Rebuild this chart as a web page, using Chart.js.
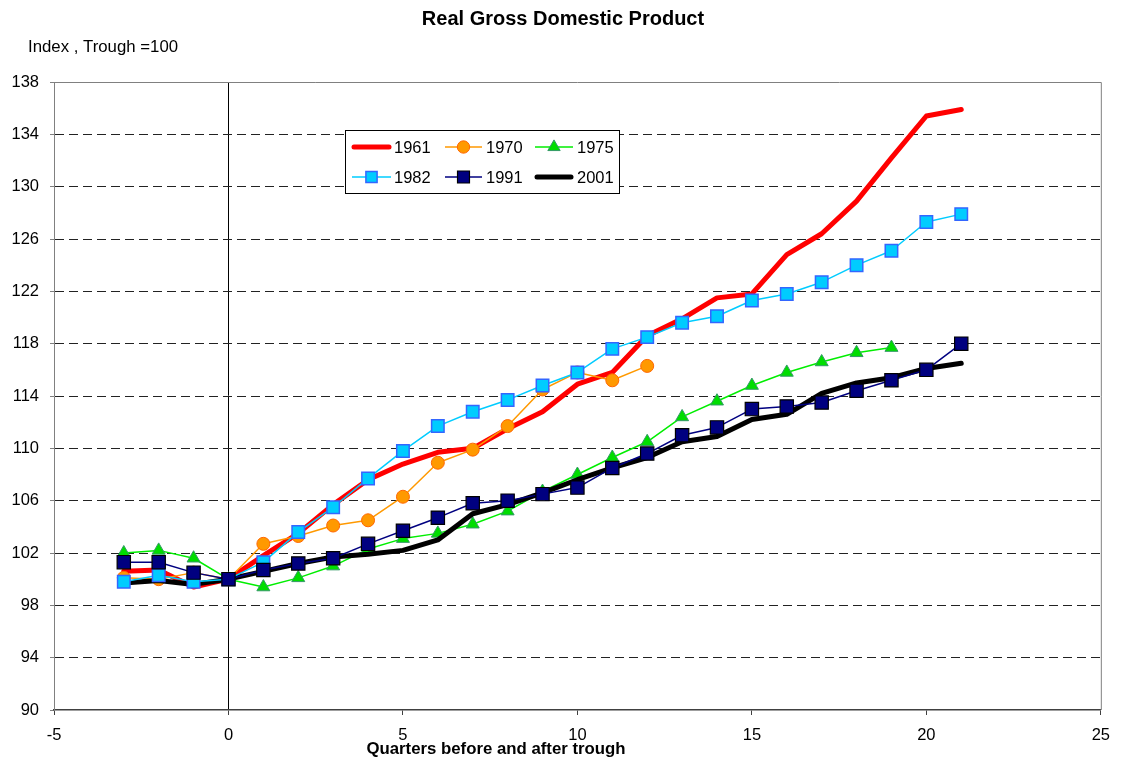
<!DOCTYPE html>
<html>
<head>
<meta charset="utf-8">
<title>Real Gross Domestic Product</title>
<script src="https://cdn.jsdelivr.net/npm/chart.js@4.4.1/dist/chart.umd.min.js"></script>
<style>
  html, body { margin: 0; padding: 0; background: #ffffff; }
  #wrap { position: relative; width: 1121px; height: 759px; }
  canvas { display: block; }
</style>
</head>
<body>
<div id="wrap"><canvas id="gdp" width="1121" height="759"></canvas></div>
<script>
// Quarters relative to the cycle trough (0 = trough)
const quarters = [-3, -2, -1, 0, 1, 2, 3, 4, 5, 6, 7, 8, 9, 10, 11, 12, 13, 14, 15, 16, 17, 18, 19, 20, 21];

// Real GDP index (trough = 100) for each recovery
const gdp1961 = [100.6, 100.7, 99.4, 100.0, 101.8, 103.5, 105.7, 107.6, 108.8, 109.7, 110.0, 111.5, 112.8, 114.9, 115.8, 118.6, 119.9, 121.5, 121.8, 124.8, 126.4, 128.9, 132.2, 135.4, 135.9];
const gdp1970 = [100.1, 100.0, 100.5, 100.0, 102.7, 103.3, 104.1, 104.5, 106.3, 108.9, 109.9, 111.7, 114.5, 115.8, 115.2, 116.3];
const gdp1975 = [102.0, 102.2, 101.6, 100.0, 99.4, 100.1, 101.0, 102.3, 103.1, 103.5, 104.2, 105.2, 106.7, 108.0, 109.3, 110.5, 112.4, 113.6, 114.8, 115.8, 116.6, 117.3, 117.7];
const gdp1982 = [99.8, 100.3, 99.8, 100.0, 101.3, 103.6, 105.5, 107.7, 109.8, 111.7, 112.8, 113.7, 114.8, 115.8, 117.6, 118.5, 119.6, 120.1, 121.3, 121.8, 122.7, 124.0, 125.1, 127.3, 127.9];
const gdp1991 = [101.3, 101.3, 100.5, 100.0, 100.7, 101.2, 101.6, 102.7, 103.7, 104.7, 105.8, 106.0, 106.5, 107.0, 108.5, 109.6, 111.0, 111.6, 113.0, 113.2, 113.5, 114.4, 115.2, 116.0, 118.0];
const gdp2001 = [99.7, 99.9, 99.6, 100.0, 100.6, 101.2, 101.7, 101.9, 102.2, 103.0, 105.0, 105.7, 106.6, 107.6, 108.5, 109.3, 110.5, 110.9, 112.2, 112.6, 114.2, 115.0, 115.4, 116.1, 116.5];

// Axis ranges and tick steps
const xTicks = { min: -5, max: 25, step: 5 };
const yTicks = { min: 90, max: 138, step: 4 };

const FONT = '"Liberation Sans", Arial, Helvetica, sans-serif';

function toPoints(values) {
  return values.map((v, i) => ({ x: quarters[i], y: v }));
}

// Series styling (drawing order: navy on top, red at the back)
const seriesDefs = [
  { label: '1961', data: gdp1961, color: '#FF0000', width: 5, marker: null, order: 6 },
  { label: '1970', data: gdp1970, color: '#FF9900', width: 1.5, marker: { style: 'circle', r: 6.5, fill: '#FF9900', stroke: '#FF6600', bw: 1 }, order: 5 },
  { label: '1975', data: gdp1975, color: '#00EE00', width: 1.5, marker: { style: 'triangle', r: 7.5, fill: '#00DD00', stroke: '#339966', bw: 1 }, order: 4 },
  { label: '1982', data: gdp1982, color: '#00CCFF', width: 1.5, marker: { style: 'rect', r: 8.8, fill: '#00CCFF', stroke: '#3366FF', bw: 1.5 }, order: 2 },
  { label: '1991', data: gdp1991, color: '#000080', width: 1.5, marker: { style: 'rect', r: 9.4, fill: '#000080', stroke: '#000000', bw: 1.2 }, order: 1 },
  { label: '2001', data: gdp2001, color: '#000000', width: 5, marker: null, order: 3 }
];

const datasets = seriesDefs.map(s => ({
  label: s.label,
  data: toPoints(s.data),
  borderColor: s.color,
  backgroundColor: s.marker ? s.marker.fill : s.color,
  borderWidth: s.width,
  tension: 0,
  order: s.order,
  pointStyle: s.marker ? s.marker.style : false,
  pointRadius: s.marker ? s.marker.r : 0,
  pointHoverRadius: s.marker ? s.marker.r : 0,
  pointBackgroundColor: s.marker ? s.marker.fill : s.color,
  pointBorderColor: s.marker ? s.marker.stroke : s.color,
  pointBorderWidth: s.marker ? s.marker.bw : 0,
  borderJoinStyle: 'round',
  borderCapStyle: 'round',
  clip: false
}));

// Small marker painter for the legend swatches
function paintMarker(ctx, m, x, y) {
  ctx.save();
  ctx.fillStyle = m.fill;
  ctx.strokeStyle = m.stroke;
  ctx.lineWidth = m.bw;
  ctx.beginPath();
  if (m.style === 'circle') {
    ctx.arc(x, y, m.r, 0, Math.PI * 2);
  } else if (m.style === 'triangle') {
    const h = m.r;
    ctx.moveTo(x, y - h);
    ctx.lineTo(x + h * Math.sin(2 * Math.PI / 3), y + h / 2);
    ctx.lineTo(x - h * Math.sin(2 * Math.PI / 3), y + h / 2);
    ctx.closePath();
  } else {
    const s = m.r * Math.SQRT1_2;
    ctx.rect(x - s, y - s, 2 * s, 2 * s);
  }
  ctx.fill();
  ctx.stroke();
  ctx.restore();
}

// Titles, plot frame and boxed legend
const decorations = {
  id: 'decorations',
  afterDraw(chart) {
    const ctx = chart.ctx;
    const a = chart.chartArea;
    ctx.save();

    // top and right edges of the plot frame
    ctx.strokeStyle = '#808080';
    ctx.lineWidth = 1;
    ctx.beginPath();
    ctx.moveTo(a.left, a.top + 0.5);
    ctx.lineTo(a.right + 0.5, a.top + 0.5);
    ctx.lineTo(a.right + 0.5, a.bottom);
    ctx.stroke();

    // chart title
    ctx.fillStyle = '#000000';
    ctx.textAlign = 'center';
    ctx.textBaseline = 'middle';
    ctx.font = 'bold 20px ' + FONT;
    ctx.fillText('Real Gross Domestic Product', 563, 19);

    // y-axis caption
    ctx.textAlign = 'left';
    ctx.font = '16.8px ' + FONT;
    ctx.fillText('Index , Trough =100', 28, 47);

    // x-axis caption
    ctx.textAlign = 'center';
    ctx.font = 'bold 16.8px ' + FONT;
    ctx.fillText('Quarters before and after trough', 496, 749);

    // legend box
    const box = { x: 345.5, y: 130.5, w: 274, h: 63 };
    ctx.fillStyle = '#ffffff';
    ctx.fillRect(box.x, box.y, box.w, box.h);
    ctx.strokeStyle = '#000000';
    ctx.lineWidth = 1;
    ctx.strokeRect(box.x, box.y, box.w, box.h);

    const cols = [{ x0: 352, x1: 391, tx: 394 }, { x0: 445, x1: 482, tx: 486 }, { x0: 535, x1: 573, tx: 577 }];
    const rows = [147, 177];
    ctx.font = '16.5px ' + FONT;
    seriesDefs.forEach((s, i) => {
      const c = cols[i % 3];
      const y = rows[Math.floor(i / 3)];
      ctx.save();
      ctx.strokeStyle = s.color;
      ctx.lineWidth = s.width;
      ctx.lineCap = s.width > 2 ? 'round' : 'butt';
      ctx.beginPath();
      ctx.moveTo(c.x0 + (s.width > 2 ? 2 : 0), y);
      ctx.lineTo(c.x1 - (s.width > 2 ? 2 : 0), y);
      ctx.stroke();
      ctx.restore();
      if (s.marker) {
        const m = Object.assign({}, s.marker, { r: s.marker.style === 'rect' ? s.marker.r * 0.9 : s.marker.r * 0.95 });
        paintMarker(ctx, m, (c.x0 + c.x1) / 2, y);
      }
      ctx.fillStyle = '#000000';
      ctx.textAlign = 'left';
      ctx.textBaseline = 'middle';
      ctx.fillText(s.label, c.tx, y + 1);
    });
    ctx.restore();
  }
};

new Chart(document.getElementById('gdp'), {
  type: 'line',
  data: { datasets },
  plugins: [decorations],
  options: {
    responsive: false,
    animation: false,
    devicePixelRatio: 1,
    layout: { padding: { top: 82, right: 20, bottom: 0, left: 0 } },
    plugins: {
      legend: { display: false },
      title: { display: false },
      tooltip: { enabled: false }
    },
    scales: {
      x: {
        type: 'linear',
        min: xTicks.min,
        max: xTicks.max,
        afterFit(scale) { scale.height = 49; },
        ticks: {
          stepSize: xTicks.step,
          color: '#000000',
          font: { family: FONT, size: 16.5 },
          padding: 11,
          maxRotation: 0
        },
        grid: {
          color: ctx => (ctx.tick && ctx.tick.value === 0 ? '#000000' : 'rgba(0,0,0,0)'),
          lineWidth: 1,
          tickColor: '#404040',
          tickLength: 5,
          drawTicks: true
        },
        border: { display: true, color: '#404040', width: 1.5 }
      },
      y: {
        type: 'linear',
        min: yTicks.min,
        max: yTicks.max,
        afterFit(scale) { scale.width = 54; },
        ticks: {
          stepSize: yTicks.step,
          color: '#000000',
          font: { family: FONT, size: 16.5 },
          padding: 11
        },
        grid: {
          color: ctx => (ctx.tick && (ctx.tick.value === yTicks.min || ctx.tick.value === yTicks.max) ? 'rgba(0,0,0,0)' : '#222222'),
          lineWidth: 1,
          tickColor: '#808080',
          tickLength: 4
        },
        border: { display: true, color: '#808080', width: 1, dash: [9, 5] }
      }
    }
  }
});
</script>
</body>
</html>
